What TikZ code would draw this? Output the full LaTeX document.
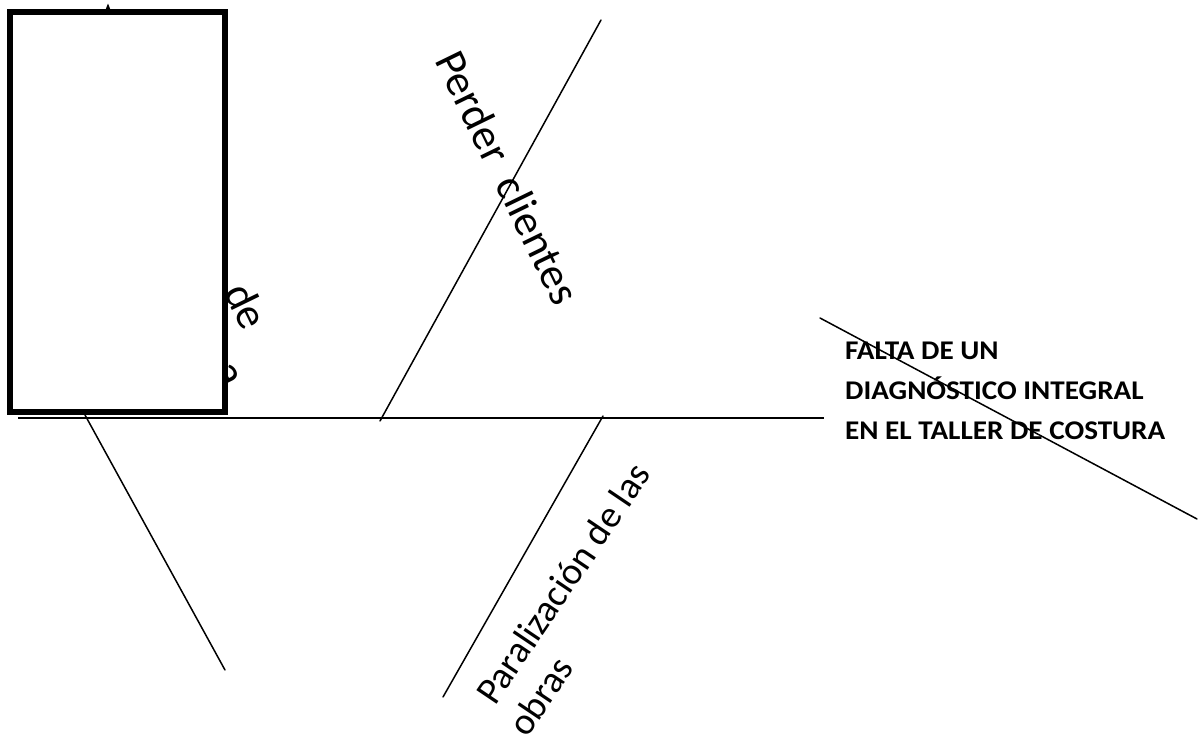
\documentclass[tikz,border=0pt]{standalone}
\usepackage{fontspec}
\setmainfont{Carlito}
\newfontfamily\headfont{Carlito}[FakeStretch=1.08]
\usetikzlibrary{arrows.meta}
\tikzset{
  bone/.style={line width=1.5pt, line cap=round},
  spine/.style={line width=2pt},
  lbl/.style={inner sep=0pt, anchor=base west, font=\fontsize{44}{52}\selectfont},
  lblsmall/.style={inner sep=0pt, anchor=base west, font=\fontsize{38}{46}\selectfont},
  headtxt/.style={inner sep=0pt, anchor=base west, align=left, font=\headfont\bfseries\fontsize{27}{40}\selectfont},
  cover/.style={draw, fill=white, line width=6pt, outer sep=0pt, inner sep=0pt}
}
\begin{document}
\begin{tikzpicture}[x=1pt,y=-1pt]
\useasboundingbox (0,0) rectangle (1204,744);
% spine
\coordinate (sl) at (18,418);
\coordinate (sr) at (824,418);
\draw[spine] (sl) -- (sr);
% branches
\coordinate (b1a) at (380,421); \coordinate (b1b) at (601,20);
\coordinate (b2a) at (603,416); \coordinate (b2b) at (443,697);
\coordinate (b3a) at (85,415);  \coordinate (b3b) at (225,670);
\coordinate (hda) at (820,318); \coordinate (hdb) at (1197,519);
\draw[bone] (b1a) -- (b1b);
\draw[bone] (b2a) -- (b2b);
\draw[bone] (b3a) -- (b3b);
% labels
\node[lbl, rotate=-64] (perder) at (434,60) {Perder\ \ clientes};
\node[lblsmall, rotate=56] (paral) at (495,707) {Paralización de las};
\node[lblsmall, rotate=56] (obras) at (527,739) {obras};
% hidden label behind box
\node[lbl, rotate=-64] (hidde) at (223,292) {de};
\node[lbl, rotate=-64] (hida) at (212,370) {a};
% hidden arrow behind box
\coordinate (arra) at (108,200);
\coordinate (arrb) at (108,3.5);
\draw[line width=1.2pt, -{Triangle[length=8pt,width=6pt]}] (arra) -- (arrb);
% box
\node[cover, minimum width=215.5pt, minimum height=400pt, anchor=north west] (box) at (9.5,12) {};
% head
\draw[bone] (hda) -- (hdb);
\node[headtxt] (head) at (845,439) {FALTA DE UN\\DIAGNÓSTICO INTEGRAL\\EN EL TALLER DE COSTURA};
\end{tikzpicture}
\end{document}
